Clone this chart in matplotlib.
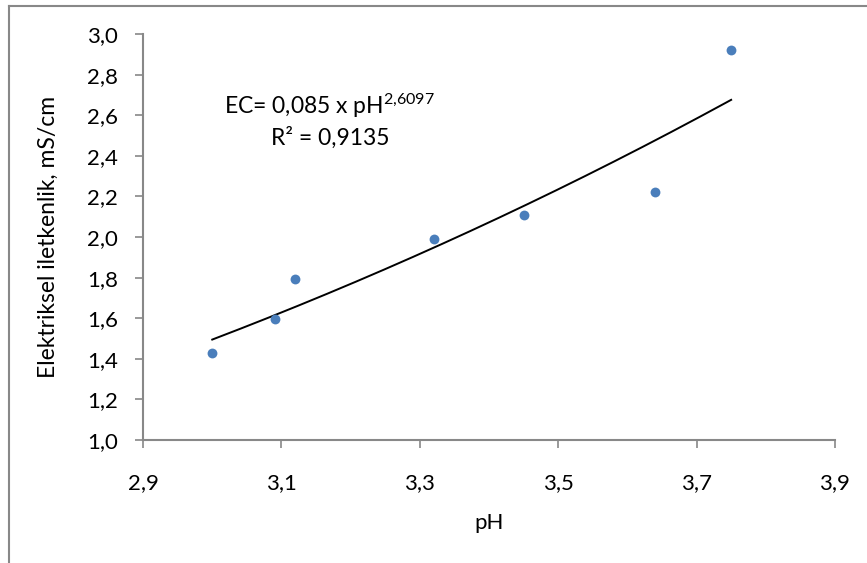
import numpy as np
import matplotlib.pyplot as plt
from matplotlib.lines import Line2D

plt.rcParams['font.family'] = ['Lato', 'DejaVu Sans']
plt.rcParams['mathtext.fontset'] = 'custom'
plt.rcParams['mathtext.rm'] = 'Lato'
plt.rcParams['mathtext.it'] = 'Lato'

# measured points
ph = [3.00, 3.09, 3.12, 3.32, 3.45, 3.64, 3.75]
ec = [1.43, 1.595, 1.795, 1.99, 2.11, 2.22, 2.92]

# power trendline from the chart label
coef_a = 0.085
coef_b = 2.6097
r2 = 0.9135

x_ticks = [2.9, 3.1, 3.3, 3.5, 3.7, 3.9]
y_ticks = [1.0, 1.2, 1.4, 1.6, 1.8, 2.0, 2.2, 2.4, 2.6, 2.8, 3.0]

fig = plt.figure(figsize=(8.67, 5.63), dpi=100)
ax = fig.add_axes([0.165, 0.2185, 0.798, 0.721])

# outer chart frame (only left and top visible in the crop)
fig.add_artist(Line2D([9 / 867, 9 / 867], [0, 1 - 6 / 563], transform=fig.transFigure,
                      color='#888888', linewidth=1.5))
fig.add_artist(Line2D([9 / 867, 1], [1 - 6 / 563, 1 - 6 / 563], transform=fig.transFigure,
                      color='#888888', linewidth=1.5))

xs = np.linspace(min(ph), max(ph), 200)
ax.plot(xs, coef_a * xs ** coef_b, color='black', linewidth=1.4, zorder=2)
ax.scatter(ph, ec, s=50, color='#4a7ebb', zorder=3, linewidths=0)

ax.set_xlim(2.9, 3.9)
ax.set_ylim(1.0, 3.0)
ax.set_xticks(x_ticks)
ax.set_yticks(y_ticks)
ax.set_xticklabels([f'{v:.1f}'.replace('.', ',') for v in x_ticks])
ax.set_yticklabels([f'{v:.1f}'.replace('.', ',') for v in y_ticks])
ax.tick_params(axis='both', labelsize=16, colors='#888888', labelcolor='black',
               length=6, width=1.2, direction='out')
ax.tick_params(axis='x', pad=18)
ax.tick_params(axis='y', pad=12)

for side in ['top', 'right']:
    ax.spines[side].set_visible(False)
for side in ['left', 'bottom']:
    ax.spines[side].set_color('#888888')
    ax.spines[side].set_linewidth(1.5)

ax.set_xlabel('pH', fontsize=16, labelpad=14)
ax.set_ylabel('Elektriksel iletkenlik, mS/cm', fontsize=16.5, labelpad=20)

ax.text(3.017, 2.645, 'EC= 0,085 x pH$^{2{,}6097}$', fontsize=16.5, ha='left', va='center')
ax.text(3.085, 2.49, 'R² = 0,9135', fontsize=16.5, ha='left', va='center')

fig.savefig('out.png', dpi=100)
